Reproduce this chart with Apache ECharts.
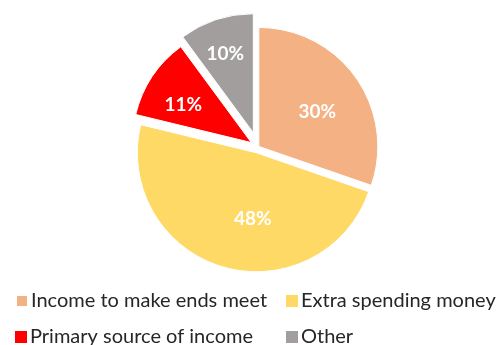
<!DOCTYPE html>
<html><head><meta charset="utf-8">
<script src="https://cdn.jsdelivr.net/npm/echarts@6/dist/echarts.min.js"></script>
<style>html,body{margin:0;padding:0;background:#fff}#c{width:498px;height:345px}</style>
</head><body><div id="c"></div>
<script>
const categories = ['Income to make ends meet', 'Extra spending money', 'Primary source of income', 'Other'];
const values = [30, 48, 11, 10];

const colors = ['#F4B183', '#FFD966', '#FF0000', '#A29E9E'];
const offsets = [1, 6, 8, 15];
// horizontal padding [left, right]; vertical shift (positive = down)
const labelPadsX = [[15, 0], [28, 0], [0, 32], [0, 17]];
const labelShiftY = [2, 6, -3, -19];
const legendPos = [[15, 291], [286, 291], [15, 327], [286, 327]];

const chart = echarts.init(document.getElementById('c'), null, {renderer: 'canvas'});
const FONT = 'Lato, "Open Sans", sans-serif';

function labelFor(j) {
  const s = labelShiftY[j];
  const txt = '{a|' + values[j] + '%}';
  return {
    show: true, position: 'inside', color: '#fff', fontWeight: 'bold', fontSize: 19,
    fontFamily: FONT, padding: [0, labelPadsX[j][1], 0, labelPadsX[j][0]],
    formatter: s > 0 ? '{s| }\n' + txt : '' + txt + '\n{s| }',
    rich: {
      a: {color: '#fff', fontWeight: 'bold', fontSize: 19, fontFamily: FONT, lineHeight: 22},
      s: {fontSize: 1, lineHeight: Math.abs(s) * 2}
    }
  };
}

const series = categories.map((cat, i) => ({
  type: 'pie',
  center: [258, 147],
  radius: 119,
  startAngle: 90,
  clockwise: true,
  animation: false,
  silent: true,
  selectedMode: 'multiple',
  selectedOffset: offsets[i],
  avoidLabelOverlap: false,
  labelLine: {show: false},
  emphasis: {disabled: true},
  data: categories.map((name, j) => ({
    name: name,
    value: values[j],
    selected: j === i,
    itemStyle: j === i ? {color: colors[j], borderColor: '#fff', borderWidth: 1} : {color: 'rgba(0,0,0,0)', borderWidth: 0},
    label: j === i ? labelFor(j) : {show: false}
  }))
}));

chart.setOption({
  backgroundColor: '#fff',
  legend: categories.map((name, j) => ({
    left: legendPos[j][0], top: legendPos[j][1],
    itemWidth: 12, itemHeight: 12, itemGap: 0, icon: 'rect',
    selectedMode: false, padding: 0,
    textStyle: {fontSize: 20, color: '#262626', fontFamily: FONT, padding: [0, 0, 0, -2]},
    data: [{name: name, itemStyle: {color: colors[j]}}]
  })),
  series: series
});
</script></body></html>
